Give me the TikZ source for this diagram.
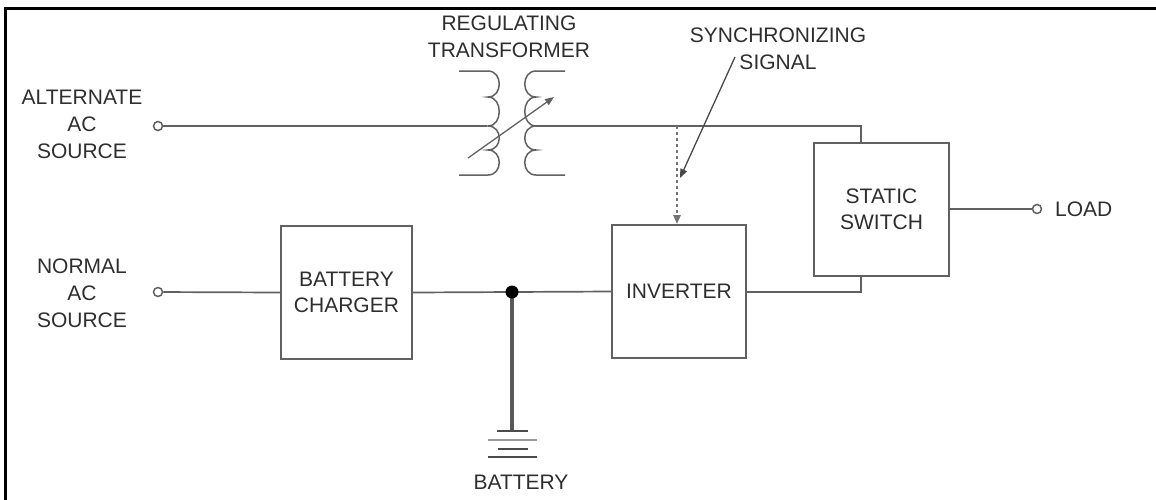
\documentclass[tikz,border=0pt]{standalone}
\usepackage{fontspec}
\setmainfont{Liberation Sans}
\usetikzlibrary{arrows.meta}
\begin{document}
\begin{tikzpicture}[x=1pt,y=-1pt,
  wire/.style={draw=black!62, line width=1.7pt},
  blk/.style={draw=black!62, line width=1.7pt, minimum height=133pt, inner sep=0pt,
    text=black!82, font=\fontsize{21}{26}\selectfont, align=center},
  lbl/.style={text=black!82, font=\fontsize{21}{27}\selectfont, align=center, inner sep=0pt},
  term/.style={circle, draw=black!62, line width=1.5pt, minimum size=9pt, inner sep=0pt},
  tipa/.style={-{Triangle[length=9pt,width=7pt]}},
  frame/.style={draw=black, line width=3pt}]
\useasboundingbox (0,0) rectangle (1156,499);
% frame (top and left edges)
\draw[frame] (5,8) -- (1160,8);
\draw[frame] (5,6.5) -- (5,505);

% labels
\node[lbl] (altlbl) at (82,124) {ALTERNATE\\AC\\SOURCE};
\node[lbl] (normlbl) at (82,293) {NORMAL\\AC\\SOURCE};
\node[lbl] (reglbl) at (509,37) {REGULATING\\TRANSFORMER};
\node[lbl] (synlbl) at (778,49) {SYNCHRONIZING\\SIGNAL};
\node[lbl, anchor=west] (loadlbl) at (1055,209) {LOAD};
\node[lbl] (batlbl) at (521,482) {BATTERY};

% terminals
\node[term] (altin) at (158,126) {};
\node[term] (normin) at (158,292) {};
\node[term] (loadout) at (1037,209) {};

% blocks
\node[blk, minimum width=131pt] (chg) at (346.5,292.5) {BATTERY\\CHARGER};
\node[blk, minimum width=134pt] (inv) at (679,291.5) {INVERTER};
\node[blk, minimum width=135pt] (sw) at (881.5,209.5) {STATIC\\SWITCH};

% coordinates
\coordinate (tL) at (487,126);
\coordinate (tR) at (536,126);
\coordinate (cTop) at (861,126);
\coordinate (cBot) at (861,292);
\coordinate (junc) at (512,292);
\coordinate (bat) at (512,431);
\coordinate (syncpt) at (677,126);
\coordinate (synfrom) at (735,57);
\coordinate (synto) at (680,178);

% transformer windings
\draw[wire, line width=1.5pt] (459,71) -- (488,71)
  .. controls (503,71) and (503,97) .. (488,97)
  .. controls (503,97) and (503,126) .. (488,126)
  .. controls (503,126) and (503,150) .. (488,150)
  .. controls (503,150) and (503,175) .. (488,175) -- (459,175);
\draw[wire, line width=1.5pt] (565,71) -- (536,71)
  .. controls (521,71) and (521,97) .. (536,97)
  .. controls (521,97) and (521,126) .. (536,126)
  .. controls (521,126) and (521,150) .. (536,150)
  .. controls (521,150) and (521,175) .. (536,175) -- (565,175);
\draw[wire, line width=1.3pt, tipa] (468,158) -- (554,97);

% connections
\draw[wire] (altin) -- (tL);
\draw[wire] (tR) -- (cTop) -- (cTop |- sw.north);
\draw[wire] (normin) -- (chg.west);
\draw[wire] (chg.east) -- (inv.west);
\draw[wire] (inv.east |- cBot) -- (cBot) -- (cBot |- sw.south);
\draw[wire] (sw.east |- loadout) -- (loadout);

% synchronizing signal
\draw[draw=black!55, line width=2.6pt, dash pattern=on 3pt off 3pt, tipa] (syncpt) -- (syncpt |- inv.north);
\draw[draw=black!72, line width=1.3pt, tipa] (synfrom) -- (synto);

% battery
\draw[draw=black!65, line width=3.5pt] (junc) -- (bat);
\fill[black] (junc) circle (6.5pt);
\draw[draw=black!70, line width=1.6pt] (497,431) -- (528,431);
\draw[draw=black!40, line width=2.6pt] (488,440) -- (537,440);
\draw[draw=black!70, line width=1.6pt] (498,449) -- (528,449);
\draw[draw=black!70, line width=1.6pt] (488,457) -- (537,457);
\end{tikzpicture}
\end{document}
